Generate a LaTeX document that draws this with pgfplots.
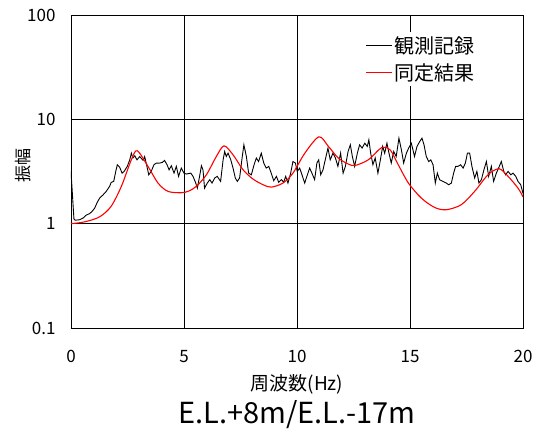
\documentclass[border=0pt]{standalone}
\usepackage{fontspec}
\setmainfont{Noto Sans CJK JP}
\usepackage{pgfplots}
\pgfplotsset{compat=1.18}
\begin{document}
\begin{tikzpicture}
\useasboundingbox (-71bp,-102bp) rectangle (466bp,328bp);
\begin{axis}[
  name=ax,
  at={(0,0)}, anchor=south west,
  scale only axis,
  width=452bp, height=313bp,
  ymode=log,
  xmin=0, xmax=20, ymin=0.1, ymax=100,
  xtick={0,5,10,15,20}, xticklabels={0,5,10,15,20},
  ytick={0.1,1,10,100}, yticklabels={0.1,1,10,100},
  minor xtick={}, minor ytick={},
  tick style={draw=none},
  grid=major,
  major grid style={black, line width=0.8bp},
  axis line style={black, line width=0.9bp},
  tick label style={font=\fontsize{17bp}{20bp}\selectfont},
  xticklabel style={anchor=north, yshift=-19bp},
  yticklabel style={anchor=east, xshift=-12bp},
  xlabel={周波数(Hz)},
  ylabel={振幅},
  xlabel style={font=\fontsize{19bp}{22bp}\selectfont, at={(axis description cs:0.5,0)}, anchor=base, yshift=-62bp},
  ylabel style={font=\fontsize{17bp}{20bp}\selectfont, at={(axis description cs:0,0.52)}, anchor=center, yshift=48bp},
  legend style={draw=none, fill=white, font=\fontsize{20bp}{24bp}\selectfont,
    at={(rel axis cs:0.905,0.945)}, anchor=north east, row sep=5bp},
  legend cell align=left,
  legend image code/.code={\draw[#1] (0bp,0bp) -- (26bp,0bp);},
]
\addplot[black, line width=0.9bp] coordinates {
(0,3.17) (0.13,1.11) (0.19,1.08) (0.38,1.09) (0.53,1.13) (0.68,1.21) (0.83,1.25) (0.93,1.31) (1.05,1.41) (1.16,1.6) (1.27,1.76) (1.42,1.89) (1.56,2.04) (1.71,2.28) (1.78,2.49) (1.89,2.54) (1.98,3.17) (2.05,3.67) (2.15,3.49) (2.26,3.05) (2.35,3.17) (2.49,3.54) (2.6,4.09) (2.67,4.74) (2.74,4.26) (2.82,4.48) (2.92,4.09) (3.04,4.4) (3.19,4.04) (3.26,4.4) (3.36,3.54) (3.44,2.94) (3.55,3.17) (3.67,3.67) (3.78,3.81) (3.92,3.81) (4.04,3.86) (4.14,4.04) (4.25,3.67) (4.34,3.28) (4.44,3.59) (4.56,3.05) (4.66,3.54) (4.76,2.84) (4.88,3.41) (5.0,3.05) (5.1,2.99) (5.3,3.05) (5.4,2.84) (5.52,2.45) (5.59,2.19) (5.69,2.84) (5.77,3.59) (5.84,3.28) (5.91,2.19) (6.03,2.45) (6.14,2.64) (6.24,2.45) (6.36,2.74) (6.47,2.84) (6.62,2.54) (6.73,4.09) (6.8,4.92) (6.87,4.4) (6.95,4.74) (7.07,4.09) (7.17,3.41) (7.27,2.74) (7.36,2.54) (7.46,2.74) (7.57,4.26) (7.65,5.7) (7.76,4.4) (7.86,3.05) (7.98,2.94) (8.1,3.67) (8.2,4.26) (8.3,3.94) (8.42,4.74) (8.53,3.81) (8.64,3.41) (8.75,3.54) (8.86,3.05) (8.97,2.58) (9.09,2.84) (9.19,2.49) (9.31,2.64) (9.41,2.5) (9.5,2.84) (9.6,2.45) (9.72,3.05) (9.82,3.94) (9.93,3.81) (10.01,3.17) (10.12,3.41) (10.22,2.94) (10.34,2.45) (10.46,2.94) (10.56,3.41) (10.66,3.05) (10.78,2.64) (10.88,3.81) (10.96,4.09) (11.05,2.94) (11.15,3.28) (11.25,4.09) (11.37,5.3) (11.47,4.09) (11.59,4.74) (11.7,4.26) (11.81,3.54) (11.93,4.74) (12.04,3.05) (12.14,3.54) (12.26,4.92) (12.36,5.7) (12.45,4.4) (12.55,3.54) (12.67,4.74) (12.77,5.7) (12.88,5.3) (13.0,5.9) (13.11,5.5) (13.18,6.36) (13.26,4.74) (13.36,3.67) (13.46,4.26) (13.58,3.05) (13.69,4.09) (13.79,5.5) (13.88,4.74) (13.98,5.9) (14.07,4.74) (14.17,3.81) (14.28,4.92) (14.39,4.4) (14.51,6.6) (14.62,5.1) (14.72,3.81) (14.84,4.74) (14.94,5.3) (15.06,5.9) (15.13,5.1) (15.2,4.4) (15.31,5.5) (15.43,6.13) (15.53,6.6) (15.62,5.7) (15.72,4.4) (15.83,3.94) (15.92,4.09) (16.02,3.67) (16.12,2.45) (16.21,3.05) (16.31,2.64) (16.46,2.54) (16.61,2.45) (16.71,2.36) (16.83,2.45) (16.93,3.05) (17.02,3.54) (17.12,3.54) (17.24,3.67) (17.35,3.41) (17.45,3.81) (17.54,4.74) (17.64,4.74) (17.74,3.54) (17.86,2.74) (17.96,3.17) (18.05,2.45) (18.16,2.64) (18.27,3.28) (18.38,3.94) (18.48,2.84) (18.6,3.54) (18.7,2.54) (18.82,3.05) (18.92,3.41) (19.04,3.94) (19.15,3.17) (19.23,2.94) (19.34,3.17) (19.46,2.94) (19.56,3.05) (19.68,2.84) (19.78,2.54) (19.9,2.36) (20.0,1.95)
};
\addlegendentry{観測記録}
\addplot[red, line width=1.1bp, smooth] coordinates {
(0,1.0) (0.5,1.03) (1.0,1.1) (1.34,1.19) (1.78,1.47) (2.23,2.28) (2.67,4.1) (2.93,5.0) (3.41,3.53) (3.85,2.45) (4.29,2.04) (4.87,1.98) (5.2,2.05) (5.55,2.28) (5.99,2.94) (6.43,4.4) (6.77,5.57) (7.17,4.57) (7.61,3.29) (8.05,2.68) (8.5,2.36) (8.86,2.24) (9.38,2.45) (9.82,3.05) (10.35,4.75) (10.97,6.8) (11.39,5.5) (11.83,4.25) (12.27,3.73) (12.57,3.61) (13.16,4.1) (13.75,5.37) (14.12,5.1) (14.48,3.67) (14.93,2.45) (15.5,1.76) (16.09,1.43) (16.6,1.36) (17.27,1.52) (17.86,2.04) (18.45,2.94) (18.94,3.36) (19.34,2.84) (19.78,2.19) (20,1.81)
};
\addlegendentry{同定結果}
\end{axis}
\node[anchor=base, font=\fontsize{29bp}{34bp}\selectfont] at ([yshift=-95bp]ax.south) {E.L.+8m/E.L.-17m};
\end{tikzpicture}
\end{document}
